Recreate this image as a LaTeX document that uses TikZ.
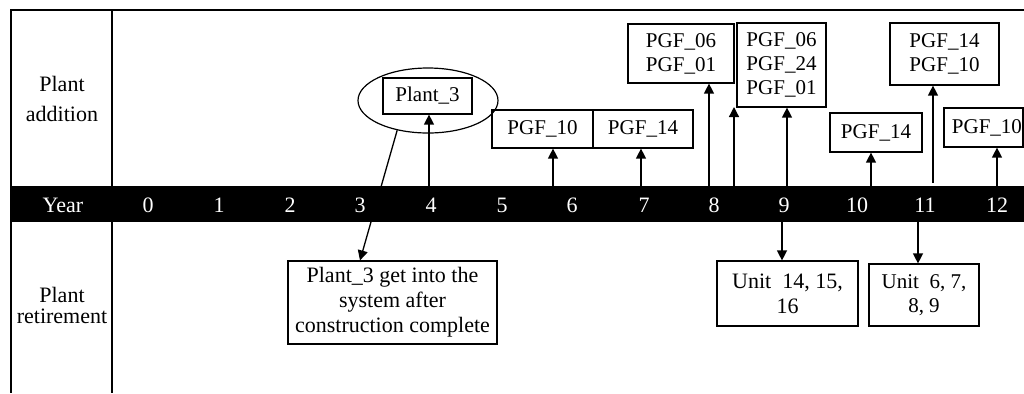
\documentclass[tikz,border=0pt]{standalone}
\usepackage{fontspec}
\setmainfont{Liberation Serif}
\usetikzlibrary{arrows.meta,shapes.geometric,calc}

\begin{document}
\begin{tikzpicture}[x=0.5pt,y=-0.5pt,
  frame/.style={line width=1.35pt},
  box/.style={draw, line width=0.6pt, inner sep=0pt, align=center,
    font=\fontsize{10.5}{12}\selectfont},
  notebox/.style={box, font=\fontsize{11}{12.5}\selectfont},
  arr/.style={line width=0.65pt, -{Triangle[width=5pt,length=5pt]}},
  lbl/.style={anchor=base, font=\fontsize{11}{13}\selectfont},
  yr/.style={anchor=base, text=white, font=\fontsize{11}{13}\selectfont}
]
\useasboundingbox (0,0) rectangle (1024,393);

% table frame and the year band
\draw[frame] (10,10) -- (1024,10);
\draw[frame] (11,10) -- (11,393);
\draw[frame] (112,10) -- (112,393);
\fill[black] (10,186) rectangle (1024,222);

% row headers
\node[lbl] (addA) at (62,91) {Plant};
\node[lbl] (addB) at (62,121) {addition};
\node[lbl] (retA) at (62,302) {Plant};
\node[lbl] (retB) at (62,323) {retirement};
\node[yr] (year) at (63,212) {Year};

% year numbers
\foreach \n/\x in {0/148,1/219,2/290,3/360,4/431,5/502,6/572,7/644,8/714,9/784,10/857,11/925,12/997}
  \node[yr] (y\n) at (\x,212) {\n};

% plant additions
\node[draw, ellipse, line width=0.6pt, minimum width=70pt, minimum height=32.5pt, inner sep=0pt]
  (ring) at (428,100.5) {};
\node[box, minimum width=44.5pt, minimum height=18pt] (p3) at (427.5,96) {Plant\_3};
\node[box, minimum width=50.5pt, minimum height=19pt] (a6) at (542.5,129) {PGF\_10};
\node[box, minimum width=50pt, minimum height=19pt] (a7) at (643,129) {PGF\_14};
\node[box, minimum width=53pt, minimum height=29.5pt] (a8) at (681,53.5) {PGF\_06\\PGF\_01};
\node[box, minimum width=44.5pt, minimum height=42pt] (a9) at (781.5,65) {PGF\_06\\PGF\_24\\PGF\_01};
\node[box, minimum width=46pt, minimum height=19.5pt] (a10) at (876,132.5) {PGF\_14};
\node[box, minimum width=54.5pt, minimum height=31pt] (a11) at (944.5,54) {PGF\_14\\PGF\_10};
\node[box, text width=38.5pt, align=right, inner xsep=0.5pt, minimum height=19.5pt]
  (a12) at (983.5,127.5) {PGF\_10};

% plant retirements and the note
\node[notebox, minimum width=104.5pt, minimum height=41.5pt] (note) at (392.5,302.5)
  {Plant\_3 get into the\\system after\\construction complete};
\node[notebox, minimum width=70.5pt, minimum height=32.5pt] (r9) at (787.5,293.5)
  {Unit\enspace 14, 15,\\16};
\node[box, minimum width=55pt, minimum height=31pt] (r11) at (924,295)
  {Unit\enspace 6, 7,\\8, 9};

% arrow feet on the year band
\coordinate (f4) at (429,186);
\coordinate (f6) at (553,186);
\coordinate (f7) at (641,186);
\coordinate (f8) at (709,186);
\coordinate (f8b) at (734,186);
\coordinate (t8b) at (734,107);
\coordinate (f9) at (787,186);
\coordinate (f10) at (871,186);
\coordinate (f11) at (933,183);
\coordinate (f12) at (997,186);
\coordinate (g9) at (782,222);
\coordinate (g11) at (918,222);

% connectors
\draw[arr] (f4) -- (p3.south -| f4);
\draw[arr] (f6) -- (a6.south -| f6);
\draw[arr] (f7) -- (a7.south -| f7);
\draw[arr] (f8) -- (a8.south -| f8);
\draw[arr] (f8b) -- (t8b);
\draw[arr] (f9) -- (a9.south -| f9);
\draw[arr] (f10) -- (a10.south -| f10);
\draw[arr] (f11) -- (a11.south -| f11);
\draw[arr] (f12) -- (a12.south -| f12);
\draw[arr] (g9) -- (r9.north -| g9);
\draw[arr] (g11) -- (r11.north -| g11);
\draw[arr] (ring.224) -- ($(note.north)+(-32.5,0)$);
\end{tikzpicture}
\end{document}
